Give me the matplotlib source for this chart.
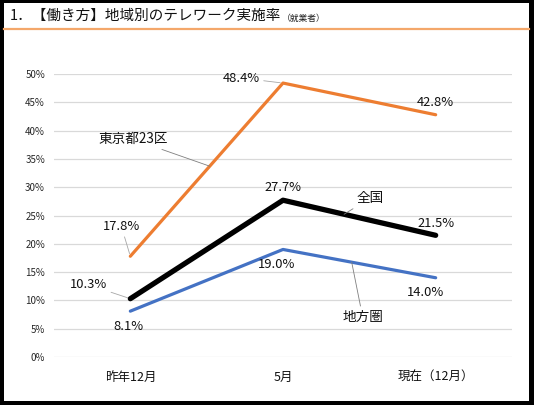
import matplotlib
matplotlib.use("Agg")
import matplotlib.pyplot as plt
from matplotlib.patches import Rectangle
from matplotlib.lines import Line2D

plt.rcParams['font.family'] = ['Noto Sans CJK JP', 'DejaVu Sans']

categories = ["昨年12月", "5月", "現在（12月）"]
tokyo = [17.8, 48.4, 42.8]
national = [10.3, 27.7, 21.5]
regional = [8.1, 19.0, 14.0]
yticks = [0, 5, 10, 15, 20, 25, 30, 35, 40, 45, 50]
title = "1．【働き方】地域別のテレワーク実施率"
subtitle = "（就業者）"

W, H = 534, 405
fig = plt.figure(figsize=(W / 100, H / 100), dpi=100)
fig.patch.set_facecolor("black")
fig.add_artist(Rectangle((4 / W, 4 / H), 525 / W, 398 / H, transform=fig.transFigure,
                         facecolor="white", edgecolor="none", zorder=-10))

# title
fig.text(10 / W, 1 - 16 / H, title, fontsize=10.5, va="center", ha="left", color="#111111")
fig.text(282 / W, 1 - 18 / H, subtitle, fontsize=6.3, va="center", ha="left", color="#222222")
fig.add_artist(Line2D([4 / W, 529 / W], [1 - 29 / H, 1 - 29 / H], transform=fig.transFigure,
                      color="#F4A76A", lw=1.6))

ax = fig.add_axes([54 / W, 48 / H, 458 / W, 283 / H])
ax.set_facecolor("none")
x = list(range(len(categories)))
ax.set_xlim(-0.5, 2.5)
ax.set_ylim(0, 50)
ax.set_yticks(yticks)
ax.set_yticklabels([f"{v}%" for v in yticks], fontsize=7, color="#262626")
ax.set_xticks(x)
ax.set_xticklabels(categories, fontsize=9, color="#111111")
ax.tick_params(axis="both", length=0)
ax.tick_params(axis="x", pad=10)
ax.tick_params(axis="y", pad=6.5)
for s in ax.spines.values():
    s.set_visible(False)
ax.grid(axis="y", color="#D9D9D9", lw=0.9)
ax.set_axisbelow(True)

ax.plot(x, tokyo, color="#ED7D31", lw=2.3, solid_capstyle="round", zorder=3)
ax.plot(x, national, color="black", lw=3.8, solid_capstyle="round", zorder=4)
ax.plot(x, regional, color="#4472C4", lw=2.3, solid_capstyle="round", zorder=3)

leader = dict(arrowstyle="-", color="#A6A6A6", lw=0.6, shrinkA=1, shrinkB=2)

def lab(xi, yi, dx, dy, line=False):
    kw = dict(arrowprops=leader) if line else {}
    ax.annotate(f"{yi:.1f}%", (xi, yi), xytext=(dx, dy), textcoords="offset pixels",
                ha="center", va="center", fontsize=9.3, color="#111111", zorder=6, **kw)

tok_off = [(-9, 30, True), (-42, 5, True), (0, 12, False)]
nat_off = [(-42, 14, True), (0, 13, False), (0, 12, False)]
reg_off = [(-2, -15, False), (-6, -15, False), (-10, -15, False)]
for series, offs in ((tokyo, tok_off), (national, nat_off), (regional, reg_off)):
    for xi, yi, (dx, dy, ln) in zip(x, series, offs):
        lab(xi, yi, dx, dy, ln)

def series_label(text, series, seg, t, dx, dy):
    xa = x[seg] + t
    ya = series[seg] + t * (series[seg + 1] - series[seg])
    ax.annotate(text, (xa, ya), xytext=(dx, dy), textcoords="offset pixels",
                ha="center", va="center", fontsize=9.8, color="#111111", zorder=6,
                arrowprops=dict(arrowstyle="-", color="#7F7F7F", lw=0.6, shrinkA=1, shrinkB=0))

series_label("東京都23区", tokyo, 0, 0.52, -77, 27)
series_label("全国", national, 1, 0.40, 26, 16)
series_label("地方圏", regional, 1, 0.45, 11, -55)

fig.savefig("out.png", dpi=100, facecolor=fig.get_facecolor())
